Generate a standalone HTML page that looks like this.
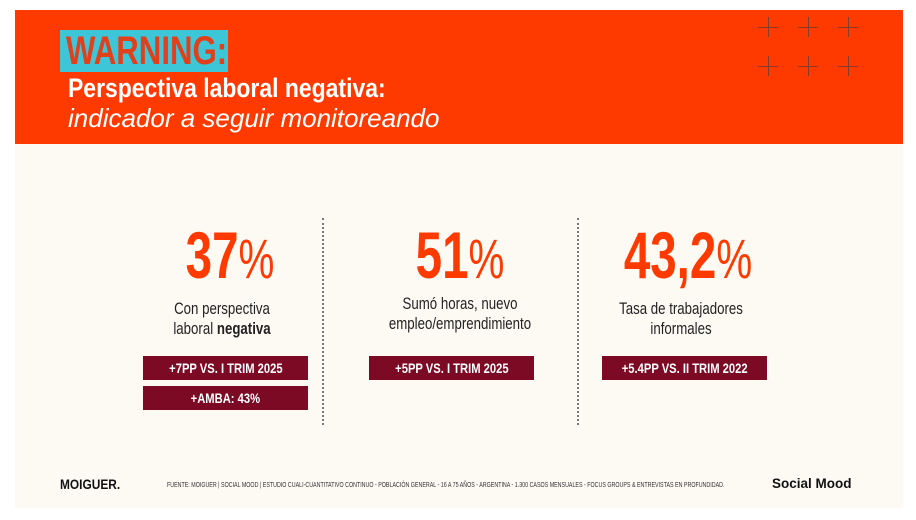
<!DOCTYPE html>
<html><head><meta charset="utf-8"><style>
*{margin:0;padding:0;box-sizing:border-box}
body{width:916px;height:520px;background:#fff;position:relative;overflow:hidden;font-family:"Liberation Sans",sans-serif}
.abs{position:absolute;white-space:nowrap}
.c{transform-origin:center top}
.l{transform-origin:left top}
.ban{left:15px;top:10px;width:888px;height:134px;background:#ff3a00}
.cream{left:15px;top:144px;width:888px;height:364px;background:#fdfaf4}
.cross{position:absolute;width:20px;height:20px}
.cross:before{content:"";position:absolute;left:9.5px;top:0;width:1px;height:20px;background:#8a3a25}
.cross:after{content:"";position:absolute;top:9.5px;left:0;height:1px;width:20px;background:#8a3a25}
.big{font-weight:bold;color:#ff3a00;font-size:66px;line-height:66px;text-align:center;width:300px;transform:scaleX(.72)}
.big span{font-weight:normal;font-size:56px}
.cap{font-size:17px;line-height:20px;color:#222;text-align:center;width:300px;transform:scaleX(.78)}
.box{background:#7d0a24;color:#fff;font-weight:bold;font-size:14px;height:24px;line-height:24px;text-align:center;width:165px}
.box span{display:inline-block;transform:scaleX(.8)}
.div{width:0;border-left:2px dotted #777;top:218px;height:207px}
</style></head><body>
<div class="abs ban"></div>
<div class="abs cream"></div>
<div class="abs" style="left:60px;top:30px;width:168px;height:42px;background:#3cc6d8"></div>
<div class="abs l" style="left:66px;top:30px;font-size:40px;line-height:42px;font-weight:bold;color:#e2401a;transform:scaleX(.78)">WARNING:</div>
<div class="abs l" style="left:68px;top:73px;font-size:27px;line-height:30px;font-weight:bold;color:#fff;transform:scaleX(.85)">Perspectiva laboral negativa:</div>
<div class="abs" style="left:68px;top:103px;font-size:26px;line-height:30px;font-style:italic;color:#fff">indicador a seguir monitoreando</div>
<div class="cross" style="left:758px;top:17px"></div><div class="cross" style="left:798px;top:17px"></div><div class="cross" style="left:838px;top:17px"></div>
<div class="cross" style="left:758px;top:56px"></div><div class="cross" style="left:798px;top:56px"></div><div class="cross" style="left:838px;top:56px"></div>

<div class="abs big c" style="left:80px;top:222px">37<span>%</span></div>
<div class="abs big c" style="left:310px;top:222px">51<span>%</span></div>
<div class="abs big c" style="left:538px;top:222px">43,2<span>%</span></div>

<div class="abs cap c" style="left:72px;top:299px">Con perspectiva<br>laboral <b>negativa</b></div>
<div class="abs cap c" style="left:310px;top:294px">Sumó horas, nuevo<br>empleo/emprendimiento</div>
<div class="abs cap c" style="left:531px;top:299px">Tasa de trabajadores<br>informales</div>

<div class="abs box" style="left:143px;top:356px"><span>+7PP VS. I TRIM 2025</span></div>
<div class="abs box" style="left:143px;top:386px"><span>+AMBA: 43%</span></div>
<div class="abs box" style="left:369px;top:356px"><span>+5PP VS. I TRIM 2025</span></div>
<div class="abs box" style="left:602px;top:356px"><span>+5.4PP VS. II TRIM 2022</span></div>

<div class="abs div" style="left:322px"></div>
<div class="abs div" style="left:577px"></div>

<div class="abs l" style="left:60px;top:476px;font-size:14px;font-weight:bold;color:#111;transform:scaleX(.85)">MOIGUER.</div>
<div class="abs l" style="left:167px;top:480px;font-size:7.5px;color:#333;transform:scaleX(.71)">FUENTE:  MOIGUER | SOCIAL MOOD | ESTUDIO CUALI-CUANTITATIVO CONTINUO - POBLACIÓN GENERAL - 16 A 75 AÑOS - ARGENTINA -  1.300 CASOS MENSUALES - FOCUS GROUPS &amp; ENTREVISTAS EN PROFUNDIDAD.</div>
<div class="abs" style="left:772px;top:476px;font-size:13.5px;font-weight:bold;color:#111">Social Mood</div>
</body></html>
